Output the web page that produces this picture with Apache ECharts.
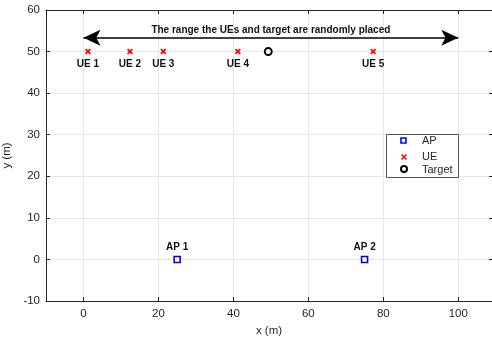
<!DOCTYPE html>
<html>
<head>
<meta charset="utf-8">
<script src="https://cdn.jsdelivr.net/npm/echarts@6/dist/echarts.min.js"></script>
<style>html,body{margin:0;padding:0;background:#fff;}#c{width:492px;height:343px;}</style>
</head>
<body>
<div id="c"></div>
<script>
// ---- data ----
const apNames = ['AP 1', 'AP 2'];
const apX = [25, 75];
const apY = [0, 0];
const ueNames = ['UE 1', 'UE 2', 'UE 3', 'UE 4', 'UE 5'];
const ueX = [1.2, 12.4, 21.3, 41.2, 77.3];
const ueY = [50, 50, 50, 50, 50];
const targetX = [49.3];
const targetY = [50];
const rangeX = [0, 100];
const rangeY = 53.3;
const rangeText = 'The range the UEs and target are randomly placed';
const xTicks = [0, 20, 40, 60, 80, 100];
const xMin = -10, xMax = 109;
const yMin = -10, yMax = 60, yStep = 10;
const legendNames = ['AP', 'UE', 'Target'];

const xPath = 'path://M0,2 L2,0 L5,3 L8,0 L10,2 L7,5 L10,8 L8,10 L5,7 L2,10 L0,8 L3,5 Z';
const axisColor = '#262626';
const gridColor = '#e6e6e6';
const font = 'Liberation Sans, Arial, Helvetica, sans-serif';

const chart = echarts.init(document.getElementById('c'), null, {renderer: 'canvas'});

const xAxisBase = {
  type: 'value', min: xMin, max: xMax,
  axisLine: {show: true, onZero: false, lineStyle: {color: axisColor, width: 1}},
  axisTick: {show: true, inside: true, length: 4, customValues: xTicks, lineStyle: {color: axisColor}},
};

const option = {
  animation: false,
  backgroundColor: '#fff',
  grid: {left: 46, right: 0, top: 10, bottom: 42, containLabel: false, outerBoundsMode: 'none'},
  xAxis: [
    Object.assign({}, xAxisBase, {
      position: 'bottom',
      name: 'x (m)', nameLocation: 'middle', nameGap: 24,
      nameTextStyle: {color: axisColor, fontSize: 11.5, fontFamily: font},
      axisLabel: {show: true, customValues: xTicks, color: axisColor, fontSize: 11.5, fontFamily: font, margin: 7},
      splitLine: {show: true, lineStyle: {color: gridColor, width: 1}}
    }),
    Object.assign({}, xAxisBase, {
      position: 'top',
      axisLabel: {show: false},
      splitLine: {show: false}
    })
  ],
  yAxis: [
    {
      type: 'value', min: yMin, max: yMax, interval: yStep, position: 'left',
      name: 'y (m)', nameLocation: 'middle', nameGap: 27, nameRotate: 90,
      nameTextStyle: {color: axisColor, fontSize: 11.5, fontFamily: font},
      axisLine: {show: true, onZero: false, lineStyle: {color: axisColor, width: 1}},
      axisTick: {show: true, inside: true, length: 4, lineStyle: {color: axisColor}},
      axisLabel: {color: axisColor, fontSize: 11.5, fontFamily: font, margin: 6},
      splitLine: {show: true, lineStyle: {color: gridColor, width: 1}}
    },
    {
      type: 'value', min: yMin, max: yMax, interval: yStep, position: 'right',
      axisLine: {show: false, onZero: false, lineStyle: {color: axisColor, width: 1}},
      axisTick: {show: true, inside: true, length: 3, lineStyle: {color: axisColor}},
      axisLabel: {show: false},
      splitLine: {show: false}
    }
  ],
  series: [
    {
      name: 'range', type: 'line', data: [], xAxisIndex: 0, yAxisIndex: 0,
      markLine: {
        silent: true, animation: false,
        symbol: ['arrow', 'arrow'], symbolSize: [12, 17],
        lineStyle: {color: '#000', width: 1.5, type: 'solid'},
        label: {show: true, position: 'middle', distance: 3, formatter: rangeText,
          color: '#111', fontSize: 10, fontWeight: 'bold', fontFamily: font},
        emphasis: {disabled: true},
        data: [[{coord: [rangeX[0], rangeY]}, {coord: [rangeX[1], rangeY]}]]
      }
    },
    {
      name: 'AP', type: 'scatter', symbol: 'rect', symbolSize: 6,
      itemStyle: {color: '#fff', borderColor: '#0000ff', borderWidth: 1.6, opacity: 1},
      label: {show: true, position: 'top', distance: 3, color: '#111', fontSize: 10, fontWeight: 'bold', fontFamily: font,
        formatter: p => apNames[p.dataIndex]},
      data: apX.map((x, i) => [x, apY[i]]),
      z: 5
    },
    {
      name: 'UE', type: 'scatter', symbol: xPath, symbolSize: 6,
      itemStyle: {color: '#ff0000', opacity: 1},
      label: {show: true, position: 'bottom', distance: 5, color: '#111', fontSize: 10, fontWeight: 'bold', fontFamily: font,
        formatter: p => ueNames[p.dataIndex]},
      data: ueX.map((x, i) => [x, ueY[i]]),
      z: 5
    },
    {
      name: 'Target', type: 'scatter', symbol: 'circle', symbolSize: 7,
      itemStyle: {color: '#fff', borderColor: '#000', borderWidth: 2, opacity: 1},
      data: targetX.map((x, i) => [x, targetY[i]]),
      z: 5
    }
  ],
  graphic: [
    {
      type: 'group', left: 386, top: 134, z: 100,
      children: [
        {type: 'rect', z: 100, shape: {x: 0.5, y: 0.5, width: 72, height: 43}, style: {fill: '#fff', stroke: '#555', lineWidth: 1}},
        {type: 'rect', z: 101, shape: {x: 15, y: 4, width: 5, height: 5}, style: {fill: '#fff', stroke: '#0000ff', lineWidth: 1.6}},
        {type: 'text', z: 101, x: 36, y: 7, style: {text: legendNames[0], fill: axisColor, fontSize: 11, fontFamily: font, verticalAlign: 'middle'}},
        {type: 'line', z: 101, shape: {x1: 15.5, y1: 20.5, x2: 20.5, y2: 25.5}, style: {stroke: '#ff0000', lineWidth: 1.5}},
        {type: 'line', z: 101, shape: {x1: 20.5, y1: 20.5, x2: 15.5, y2: 25.5}, style: {stroke: '#ff0000', lineWidth: 1.5}},
        {type: 'text', z: 101, x: 36, y: 23, style: {text: legendNames[1], fill: axisColor, fontSize: 11, fontFamily: font, verticalAlign: 'middle'}},
        {type: 'circle', z: 101, shape: {cx: 18, cy: 35, r: 3}, style: {fill: '#fff', stroke: '#000', lineWidth: 2}},
        {type: 'text', z: 101, x: 36, y: 36, style: {text: legendNames[2], fill: axisColor, fontSize: 11, fontFamily: font, verticalAlign: 'middle'}}
      ]
    }
  ]
};
chart.setOption(option);
</script>
</body>
</html>
